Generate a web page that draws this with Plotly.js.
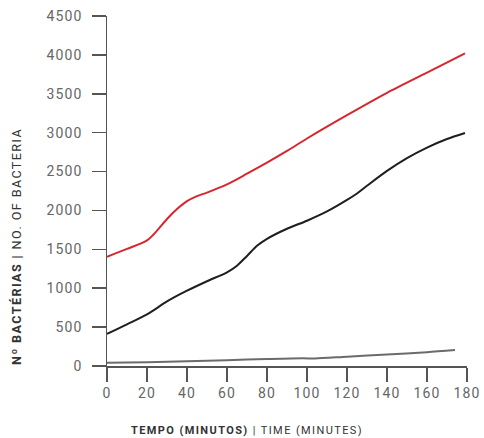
<!DOCTYPE html>
<html>
<head>
<meta charset="utf-8">
<script src="https://cdn.plot.ly/plotly-3.0.1.min.js"></script>
<style>
html,body{margin:0;padding:0;background:#fff;}
#chart{width:484px;height:438px;}
.xtick text,.ytick text{letter-spacing:1.2px;}
.annotation-text{letter-spacing:1.4px;}
</style>
</head>
<body>
<div id="chart"></div>
<script>
// Time (minutes) and number of bacteria for each series
const redX = [0, 10, 20, 25, 30, 35, 40, 45, 50, 60, 70, 80, 90, 100, 120, 140, 160, 179];
const redY = [1405, 1505, 1615, 1740, 1890, 2018, 2120, 2185, 2230, 2335, 2472, 2615, 2765, 2925, 3225, 3512, 3772, 4020];

const blackX = [0, 10, 20, 30, 40, 50, 60, 65, 70, 75, 80, 90, 100, 110, 120, 125, 130, 140, 150, 160, 170, 179];
const blackY = [412, 535, 663, 830, 968, 1090, 1205, 1290, 1415, 1545, 1635, 1765, 1868, 1987, 2135, 2218, 2317, 2508, 2672, 2808, 2918, 2995];

const grayX = [0, 20, 40, 60, 80, 98, 104, 120, 140, 160, 174];
const grayY = [42, 48, 60, 74, 90, 100, 96, 120, 148, 178, 205];

const xTicks = [0, 20, 40, 60, 80, 100, 120, 140, 160, 180];
const yTicks = [0, 500, 1000, 1500, 2000, 2500, 3000, 3500, 4000, 4500];

const xTitle = '<b>TEMPO (MINUTOS)</b> | TIME (MINUTES)';
const yTitle = '<b>Nº BACTÉRIAS</b> | NO. OF BACTERIA';

const mk = (x, y, color) => ({
  x: x, y: y, type: 'scatter', mode: 'lines',
  line: {color: color, width: 2, shape: 'spline', smoothing: 0.8},
  hoverinfo: 'skip', showlegend: false
});

const data = [
  mk(grayX, grayY, '#6b6b6b'),
  mk(blackX, blackY, '#1e1e1e'),
  mk(redX, redY, '#d7262e')
];

const axisCommon = {
  showgrid: false, zeroline: false,
  showline: true, linecolor: '#555', linewidth: 1.5,
  ticks: 'outside', ticklen: 14, tickwidth: 1.5, tickcolor: '#555',
  tickfont: {family: 'Roboto, sans-serif', size: 14, color: '#666'},
  fixedrange: true
};

const layout = {
  width: 484, height: 438,
  margin: {l: 107, r: 17, t: 16, b: 72},
  paper_bgcolor: '#fff', plot_bgcolor: '#fff',
  xaxis: Object.assign({}, axisCommon, {
    range: [0, 180], tickmode: 'array', tickvals: xTicks,
    ticktext: xTicks.map(String), ticklabelstandoff: 0
  }),
  yaxis: Object.assign({}, axisCommon, {
    range: [0, 4500], tickmode: 'array', tickvals: yTicks,
    ticktext: yTicks.map(String), ticklabelstandoff: 6
  }),
  annotations: [
    {text: xTitle, xref: 'paper', yref: 'paper', x: 0.39, y: -0.184,
     xanchor: 'center', yanchor: 'middle', showarrow: false,
     font: {family: 'Roboto, sans-serif', size: 11, color: '#333'}},
    {text: yTitle, xref: 'paper', yref: 'paper', x: -0.25, y: -0.004,
     xanchor: 'center', yanchor: 'bottom', textangle: -90, showarrow: false,
     font: {family: 'Roboto, sans-serif', size: 12.6, color: '#333'}}
  ]
};

Plotly.newPlot('chart', data, layout, {displayModeBar: false, staticPlot: true});
</script>
</body>
</html>
